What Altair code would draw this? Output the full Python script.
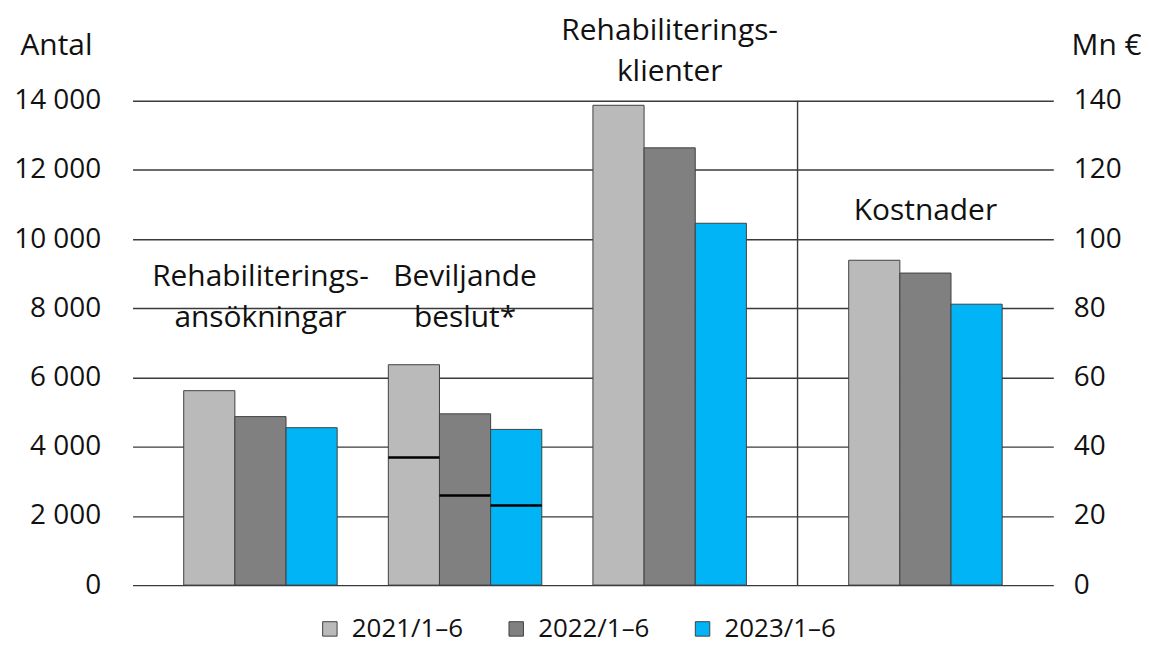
import altair as alt
import pandas as pd

# ---- data ----
categories = ["Rehabiliteringsansökningar", "Beviljande beslut*", "Rehabiliteringsklienter", "Kostnader"]
series = ["2021/1–6", "2022/1–6", "2023/1–6"]
v2021 = [5620, 6370, 13870, 93.9]
v2022 = [4870, 4950, 12640, 90.2]
v2023 = [4550, 4500, 10460, 81.2]
beslut_inner = [3690, 2590, 2300]   # marked level inside the "Beviljande beslut*" bars
group_labels = ["Rehabiliterings-\nansökningar", "Beviljande\nbeslut*", "Rehabiliterings-\nklienter", "Kostnader"]

# ---- layout (category slots on a unit scale: 1 bar = 1 unit) ----
group_start = [1, 5, 9, 14]
label_y = [8900, 8900, 16020, 10800]
separator_x = 13
colors = ["#BABABA", "#808080", "#00B4F5"]
FONT = "Open Sans"

rows = []
vals = [v2021, v2022, v2023]
for g, cat in enumerate(categories):
    for s, ser in enumerate(series):
        rows.append({"cat": cat, "series": ser, "value": vals[s][g], "zero": 0,
                     "x": group_start[g] + s, "x2": group_start[g] + s + 1, "g": g})
df = pd.DataFrame(rows)
df_left = df[df.g < 3]
df_right = df[df.g == 3]

inner = pd.DataFrame({"series": series, "y": beslut_inner,
                      "x": [group_start[1] + s for s in range(3)],
                      "x2": [group_start[1] + s + 1 for s in range(3)]})
labels = pd.DataFrame({"text": group_labels, "y": label_y,
                       "x": [gs + 1.5 for gs in group_start]})
sep = pd.DataFrame({"x": [separator_x], "y": [0], "y2": [14000]})

xscale = alt.Scale(domain=[0, 18], nice=False, zero=False, padding=0)
yleft = alt.Scale(domain=[0, 14000], nice=False, padding=0)
yright = alt.Scale(domain=[0, 140], nice=False, padding=0)
color = alt.Color("series:N", scale=alt.Scale(domain=series, range=colors),
                  legend=alt.Legend(title=None, orient="none", direction="horizontal",
                                    legendX=185, legendY=517,
                                    symbolType="square", symbolSize=210,
                                    symbolStrokeColor="#404040", symbolStrokeWidth=1,
                                    labelFont=FONT, labelFontSize=26, labelColor="#111",
                                    labelOffset=9, columnPadding=40, labelLimit=300))

left_axis = alt.Axis(title="Antal", titleAngle=0, titleAlign="left", titleBaseline="middle",
                     titleX=-113, titleY=-55, titleFont=FONT, titleFontSize=30,
                     titleFontWeight="normal", titleColor="#111",
                     values=list(range(0, 14001, 2000)),
                     labelExpr="replace(format(datum.value, ','), ',', ' ')",
                     labelFont=FONT, labelFontSize=28, labelColor="#111", labelPadding=32,
                     grid=True, gridColor="#3a3a3a", gridWidth=1.4,
                     domain=False, ticks=False)

bars_left = alt.Chart(df_left).mark_bar(stroke="#404040", strokeWidth=1).encode(
    x=alt.X("x:Q", scale=xscale, axis=None),
    x2="x2:Q",
    y=alt.Y("value:Q", scale=yleft, axis=left_axis),
    y2="zero:Q",
    color=color,
)
inner_rules = alt.Chart(inner).mark_rule(color="#000000", strokeWidth=2.5).encode(
    x=alt.X("x:Q", scale=xscale, axis=None), x2="x2:Q",
    y=alt.Y("y:Q", scale=yleft, axis=left_axis),
)
sep_rule = alt.Chart(sep).mark_rule(color="#3a3a3a", strokeWidth=1.4).encode(
    x=alt.X("x:Q", scale=xscale, axis=None),
    y=alt.Y("y:Q", scale=yleft, axis=left_axis), y2="y2:Q",
)
texts = alt.Chart(labels).mark_text(font=FONT, fontSize=30, color="#111", lineBreak="\n",
                                    lineHeight=41, align="center", baseline="middle").encode(
    x=alt.X("x:Q", scale=xscale, axis=None),
    y=alt.Y("y:Q", scale=yleft, axis=left_axis),
    text="text:N",
)
left = alt.layer(bars_left, inner_rules, sep_rule, texts)

right_axis = alt.Axis(title="Mn €", orient="right", titleAngle=0, titleAlign="center",
                      titleBaseline="middle", titleX=53, titleY=-55, titleFont=FONT,
                      titleFontSize=30, titleFontWeight="normal", titleColor="#111",
                      values=list(range(0, 141, 20)), format="d",
                      labelFont=FONT, labelFontSize=28, labelColor="#111", labelPadding=20,
                      grid=False, domain=False, ticks=False)
bars_right = alt.Chart(df_right).mark_bar(stroke="#404040", strokeWidth=1).encode(
    x=alt.X("x:Q", scale=xscale, axis=None),
    x2="x2:Q",
    y=alt.Y("value:Q", scale=yright, axis=right_axis),
    y2="zero:Q",
    color=color,
)

chart = alt.layer(left, bars_right).resolve_scale(y="independent").properties(
    width=924, height=486,
    autosize=alt.AutoSizeParams(type="none"),
    padding={"left": 125, "top": 92, "right": 88, "bottom": 58},
).configure_view(stroke=None)

chart.save("out.html", embed_options={"renderer": "svg", "actions": False})
